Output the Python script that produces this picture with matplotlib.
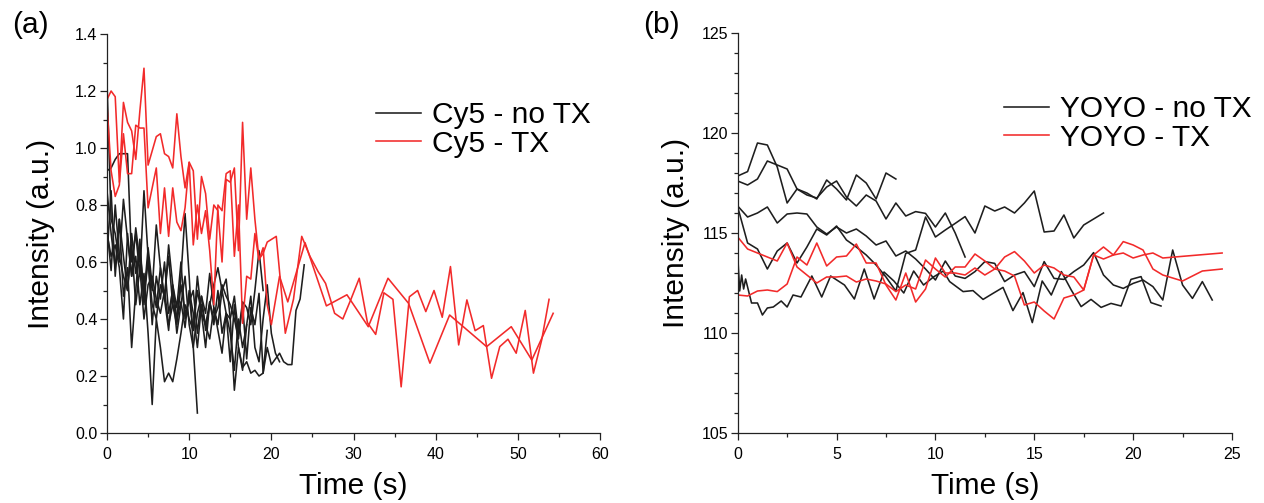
import numpy as np
import matplotlib
matplotlib.use("Agg")
import matplotlib.pyplot as plt
from matplotlib.ticker import MultipleLocator, FormatStrFormatter
from matplotlib.lines import Line2D

plt.rcParams['font.family'] = ['Liberation Sans', 'DejaVu Sans']

# ---------------- Panel (a): Cy5 ----------------
cy5_tx1_t = [0.0, 0.5, 1.0, 1.5, 2.0, 2.5, 3.0, 3.5, 4.0, 4.5, 5.0, 5.5, 6.0, 6.5, 7.0, 7.5,
             8.0, 8.5, 9.0, 9.5, 10.0, 10.5, 11.0, 11.5, 12.0, 12.5, 13.0, 13.5, 14.0, 14.5,
             15.0, 15.5, 16.0, 16.5, 17.0, 17.5, 18.0, 18.5, 19.0, 19.5,
             20.6, 21.7, 22.7, 23.7, 24.7, 25.7, 26.6, 27.7, 28.7, 29.7, 30.7, 31.7, 32.7,
             33.7, 34.8, 35.8, 36.8, 37.8, 38.8, 39.8, 40.8, 41.8, 42.8, 43.8, 44.8, 45.8,
             46.8, 47.8, 48.8, 49.8, 50.9, 51.9, 52.9, 53.8]
cy5_tx1_v = [1.17, 1.20, 1.18, 0.88, 1.16, 1.09, 1.06, 0.96, 1.13, 1.28, 0.94, 0.99, 1.04, 1.05,
             0.98, 0.97, 0.93, 1.12, 0.97, 0.86, 0.95, 0.92, 0.68, 0.90, 0.84, 0.68, 0.80, 0.78,
             0.60, 0.89, 0.88, 0.93, 0.64, 1.09, 0.75, 0.93, 0.75, 0.61, 0.63, 0.67,
             0.69, 0.35, 0.47, 0.69, 0.62, 0.566, 0.525, 0.42, 0.40, 0.47, 0.543, 0.387, 0.346,
             0.492, 0.469, 0.162, 0.478, 0.50, 0.426, 0.50, 0.406, 0.584, 0.309, 0.467, 0.359,
             0.377, 0.192, 0.303, 0.329, 0.28, 0.43, 0.21, 0.326, 0.469]

cy5_tx2_t = [0.0, 0.5, 1.0, 1.5, 2.0, 2.5, 3.0, 3.5, 4.0, 4.5, 5.0, 5.5, 6.0, 6.5, 7.0, 7.5,
             8.0, 8.5, 9.0, 9.5, 10.0, 10.5, 11.0, 11.5, 12.0, 12.5, 13.0, 13.5, 14.0, 14.5,
             15.0, 15.5, 16.0, 16.5, 17.0, 17.5, 18.0, 18.5, 19.0, 19.5, 20.0, 21.0, 22.0,
             24.1, 26.7, 29.2, 31.8, 34.2, 36.7, 39.3, 41.7, 46.2, 49.2, 51.7, 54.3]
cy5_tx2_v = [1.15, 0.92, 0.83, 0.87, 1.05, 0.91, 0.91, 1.08, 1.07, 1.07, 0.79, 0.86, 0.93, 0.70,
             0.86, 0.69, 0.86, 0.74, 0.71, 0.79, 0.95, 0.66, 0.80, 0.70, 0.78, 0.64, 0.45, 0.80,
             0.78, 0.91, 0.92, 0.62, 0.80, 0.385, 0.55, 0.54, 0.70, 0.607, 0.65, 0.45, 0.38, 0.55, 0.46,
             0.668, 0.446, 0.485, 0.373, 0.543, 0.455, 0.245, 0.414, 0.303, 0.373, 0.256, 0.42]

cy5_notx_dt = 0.5
cy5_notx_1 = [0.72, 0.57, 0.80, 0.62, 0.55, 0.50, 0.66, 0.45, 0.58, 0.40, 0.52, 0.55, 0.47, 0.42,
              0.50, 0.38, 0.45, 0.40, 0.55, 0.77, 0.55, 0.30, 0.07]
cy5_notx_2 = [1.23, 0.75, 0.70, 0.60, 0.82, 0.68, 0.55, 0.72, 0.60, 0.48, 0.65, 0.52, 0.44, 0.58,
              0.47, 0.36, 0.52, 0.40, 0.46, 0.37, 0.50, 0.42, 0.30, 0.45, 0.38, 0.33, 0.44, 0.36,
              0.28, 0.42, 0.35, 0.22, 0.40, 0.30, 0.38]
cy5_notx_3 = [0.92, 0.93, 0.96, 0.98, 0.98, 0.98, 0.60, 0.70, 0.55, 0.85, 0.62, 0.50, 0.73, 0.58,
              0.47, 0.66, 0.52, 0.44, 0.60, 0.40, 0.48, 0.36, 0.55, 0.42, 0.30, 0.46, 0.38, 0.50,
              0.35, 0.42, 0.25, 0.45, 0.30, 0.22, 0.38, 0.48, 0.30, 0.25, 0.40, 0.52, 0.35, 0.28, 0.25]
cy5_notx_4 = [0.62, 0.85, 0.55, 0.75, 0.48, 0.58, 0.30, 0.50, 0.68, 0.45, 0.62, 0.38, 0.55, 0.47,
              0.60, 0.42, 0.50, 0.35, 0.45, 0.55, 0.38, 0.30, 0.42, 0.48, 0.36, 0.45, 0.52, 0.58,
              0.50, 0.54, 0.40, 0.15, 0.30, 0.23, 0.25, 0.21, 0.22, 0.20, 0.21, 0.30, 0.24, 0.26,
              0.28, 0.25, 0.24, 0.24, 0.43, 0.47, 0.59]
cy5_notx_5 = [0.70, 0.62, 0.66, 0.58, 0.40, 0.70, 0.55, 0.62, 0.45, 0.56, 0.35, 0.10, 0.40, 0.30,
              0.18, 0.21, 0.18, 0.26, 0.35, 0.45, 0.40, 0.36, 0.50, 0.42, 0.38, 0.46, 0.40, 0.44,
              0.52, 0.48, 0.45, 0.40, 0.33, 0.45, 0.26, 0.44, 0.38, 0.49, 0.21, 0.36]
cy5_notx_6 = [0.85, 0.70, 0.58, 0.75, 0.62, 0.50, 0.70, 0.56, 0.64, 0.50, 0.60, 0.45, 0.40, 0.52,
              0.48, 0.62, 0.45, 0.38, 0.52, 0.42, 0.46, 0.50, 0.35, 0.48, 0.42, 0.56, 0.44, 0.38,
              0.50, 0.42, 0.40, 0.48, 0.35, 0.46, 0.44, 0.38, 0.50, 0.64, 0.50]

# ---------------- Panel (b): YOYO ----------------
yoyo_tx1_t = [0.0, 0.5, 1.0, 1.5, 2.0, 2.5, 3.0, 3.5, 4.0, 4.5, 5.0, 5.5, 6.0, 6.5, 7.0, 7.5,
              8.0, 8.5, 9.0, 9.5, 10.0, 10.5, 11.0, 11.5, 12.0, 12.5, 13.0, 13.5, 14.0, 14.5,
              15.0, 15.5, 16.0, 16.5, 17.0, 17.5, 18.0, 18.5, 19.0, 19.5, 20.0, 20.5, 21.0,
              21.5, 22.5, 23.5, 24.5]
yoyo_tx1_v = [114.8, 114.2, 114.0, 113.8, 113.6, 114.5, 113.3, 112.9, 112.5, 112.8, 112.8, 112.85,
              112.55, 112.7, 112.6, 112.45, 112.07, 112.4, 112.2, 113.65, 113.2, 112.8, 113.3, 113.3,
              113.95, 113.6, 113.2, 113.8, 114.07, 113.6, 113.0, 113.4, 113.25, 112.9, 112.8, 112.15,
              113.9, 114.3, 113.9, 114.57, 114.4, 114.15, 113.2, 112.9, 112.6, 113.1, 113.2]
yoyo_tx2_t = [0.0, 0.5, 1.0, 1.5, 2.0, 2.5, 3.0, 3.5, 4.0, 4.5, 5.0, 5.5, 6.0, 6.5, 7.0, 7.5,
              8.0, 8.5, 9.0, 9.5, 10.0, 10.5, 11.0, 11.5, 12.0, 12.5, 13.0, 13.5, 14.0, 14.5,
              15.0, 15.5, 16.0, 16.5, 17.0, 17.5, 18.0, 18.5, 19.0, 19.5, 20.0, 20.5, 21.0,
              21.5, 24.5]
yoyo_tx2_v = [111.9, 111.85, 112.1, 112.15, 112.07, 112.45, 113.8, 113.4, 114.5, 113.35, 113.8,
              113.85, 114.45, 113.5, 113.5, 112.4, 111.65, 113.0, 111.55, 112.2, 113.75, 113.0,
              113.0, 112.9, 113.25, 112.9, 113.2, 113.1, 112.85, 111.4, 111.55, 111.1, 110.7,
              111.75, 111.9, 112.15, 113.9, 113.7, 113.9, 114.0, 113.75, 113.9, 114.0, 113.75, 114.0]

yoyo_notx_dt = 0.5
yoyo_notx_1 = [117.85, 118.07, 119.5, 119.4, 118.3, 116.5, 117.2, 117.0, 116.7, 117.65, 117.2,
               116.65, 117.9, 117.5, 116.7, 118.0, 117.7]
yoyo_notx_2 = [117.6, 117.4, 117.7, 118.6, 118.4, 118.2, 117.2, 116.9, 116.75, 117.3, 117.6,
               116.8, 116.35, 116.9, 116.6, 115.7, 116.5, 115.85, 116.07, 115.98, 115.3, 116.0,
               115.0, 113.8]
yoyo_notx_3 = [116.3, 114.5, 114.2, 113.2, 114.1, 114.5, 113.5, 114.3, 115.2, 114.9, 115.35,
               114.65, 114.3, 113.9, 113.4, 112.8, 112.1, 113.98, 114.15, 115.8, 114.8, 115.15,
               115.48, 115.82, 115.0, 116.35, 116.1, 116.3, 116.0, 116.5, 117.1, 115.05, 115.1,
               115.9, 114.75, 115.4, 115.7, 116.0]
yoyo_notx_4 = [116.35, 115.8, 116.0, 116.3, 115.5, 115.95, 116.0, 115.95, 115.3, 114.95, 115.3,
               115.0, 115.2, 114.85, 114.4, 114.6, 113.85, 114.1, 113.7, 113.2, 112.65, 113.6,
               112.85, 112.73, 113.07, 113.57, 113.48, 112.57, 112.9, 113.07, 112.32, 113.57,
               112.73, 112.68, 113.07, 113.4, 114.02, 112.9, 112.4, 112.23, 112.48, 112.65,
               112.32, 111.65, 114.15, 112.4, 111.73, 112.57, 111.65]
yoyo_notx_5_t = [0.0, 0.1, 0.2, 0.3, 0.4, 0.7, 1.0, 1.25, 1.5, 1.8, 2.2, 2.5, 2.8, 3.2, 3.75,
                 4.25, 4.7, 5.4, 5.9, 6.4, 6.9, 7.4, 7.9, 8.4, 8.9, 9.4, 9.9, 10.4, 10.72, 11.4,
                 11.9, 12.41, 12.91, 13.42, 13.92, 14.43, 14.9, 15.4, 15.86, 16.37, 16.87, 17.37,
                 17.87, 18.38, 18.88, 19.39, 19.89, 20.4, 20.9, 21.41]
yoyo_notx_5_v = [113.9, 112.1, 112.9, 112.2, 112.7, 111.5, 111.5, 110.9, 111.25, 111.3, 111.6,
                 111.3, 111.9, 111.8, 112.85, 111.8, 112.85, 112.4, 111.7, 113.2, 111.7, 113.05,
                 112.6, 112.0, 113.1, 112.4, 112.8, 113.1, 112.57, 112.07, 112.12, 111.68, 111.98,
                 112.28, 111.12, 112.02, 110.52, 112.6, 111.9, 113.07, 112.15, 111.32, 111.68,
                 111.28, 111.48, 111.35, 112.68, 112.82, 111.52, 111.35]

BLACK = '#1e1e1e'
RED = '#f22a2a'
LW = 1.15

W, H = 1264, 503
fig = plt.figure(figsize=(W / 100, H / 100), dpi=100)

def fx(px):
    return px / W

def fy(py):
    return 1 - py / H

axA = fig.add_axes([fx(107), fy(433), (600 - 107) / W, (433 - 34) / H])
axB = fig.add_axes([fx(737.7), fy(433), (1232 - 737.7) / W, (433 - 33) / H])

def tvec(n, dt):
    return np.arange(n) * dt

for v in [cy5_notx_1, cy5_notx_2, cy5_notx_3, cy5_notx_4, cy5_notx_5, cy5_notx_6]:
    axA.plot(tvec(len(v), cy5_notx_dt), v, color=BLACK, lw=LW)
axA.plot(cy5_tx1_t, cy5_tx1_v, color=RED, lw=LW)
axA.plot(cy5_tx2_t, cy5_tx2_v, color=RED, lw=LW)

for v in [yoyo_notx_1, yoyo_notx_2, yoyo_notx_3, yoyo_notx_4]:
    axB.plot(tvec(len(v), yoyo_notx_dt), v, color=BLACK, lw=LW)
axB.plot(yoyo_notx_5_t, yoyo_notx_5_v, color=BLACK, lw=LW)
axB.plot(yoyo_tx1_t, yoyo_tx1_v, color=RED, lw=LW)
axB.plot(yoyo_tx2_t, yoyo_tx2_v, color=RED, lw=LW)

def style(ax, xlim, ylim, xmaj, xmin, ymaj, ymin, yfmt, ylabelpad):
    ax.set_xlim(*xlim)
    ax.set_ylim(*ylim)
    ax.xaxis.set_major_locator(MultipleLocator(xmaj))
    ax.xaxis.set_minor_locator(MultipleLocator(xmin))
    ax.yaxis.set_major_locator(MultipleLocator(ymaj))
    ax.yaxis.set_minor_locator(MultipleLocator(ymin))
    ax.yaxis.set_major_formatter(FormatStrFormatter(yfmt))
    for s in ['top', 'right']:
        ax.spines[s].set_visible(False)
    for s in ['left', 'bottom']:
        ax.spines[s].set_linewidth(0.9)
        ax.spines[s].set_color('#222222')
    ax.tick_params(which='major', direction='out', length=5, width=0.9, labelsize=11.5,
                   pad=2, colors='#222222', labelcolor='black')
    ax.tick_params(axis='x', which='major', pad=5)
    ax.tick_params(which='minor', direction='out', length=3, width=0.9, colors='#222222')
    ax.set_xlabel('Time (s)', fontsize=21.5, labelpad=7)
    ax.set_ylabel('Intensity (a.u.)', fontsize=21.5, labelpad=ylabelpad)

style(axA, (0, 60), (0, 1.4), 10, 5, 0.2, 0.1, '%.1f', 14)
style(axB, (0, 25), (105, 125), 5, 2.5, 5, 1, '%d', 8)

fig.text(fx(12), fy(25), '(a)', fontsize=21.5, va='center', ha='left')
fig.text(fx(643), fy(25), '(b)', fontsize=21.5, va='center', ha='left')

def legend(ax, labels, x, y):
    handles = [Line2D([], [], color=BLACK, lw=LW), Line2D([], [], color=RED, lw=LW)]
    ax.legend(handles, labels, loc='upper left', bbox_to_anchor=(fx(x), fy(y)),
              bbox_transform=fig.transFigure, frameon=False, fontsize=21.5,
              handlelength=1.5, handletextpad=0.36, labelspacing=0.03,
              borderpad=0, borderaxespad=0)

legend(axA, ['Cy5 - no TX', 'Cy5 - TX'], 376, 101)
legend(axB, ['YOYO - no TX', 'YOYO - TX'], 1004, 95)

fig.savefig('out.png', dpi=100)
